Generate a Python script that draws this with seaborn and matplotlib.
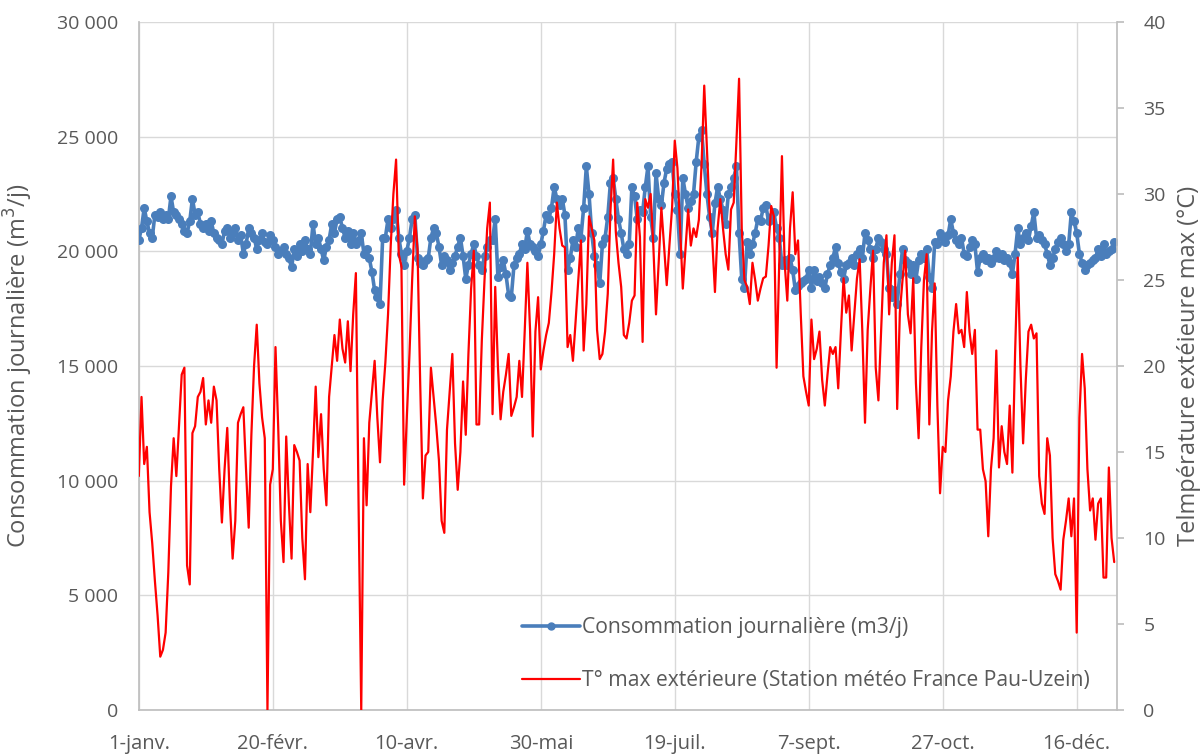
import matplotlib
matplotlib.use('Agg')
import numpy as np
import pandas as pd
import matplotlib.pyplot as plt
import matplotlib.lines as mlines
from matplotlib.ticker import FuncFormatter
import seaborn as sns

# Consommation journalière (m3/j), un point par jour (1-janv. -> 31-déc.)
conso = [
    20500, 21000, 21900, 21300, 20800, 20600, 21600, 21500, 21700, 21400,
    21600, 21400, 22400, 21700, 21600, 21400, 21200, 20900, 20800, 21300,
    22300, 21600, 21700, 21200, 21000, 21200, 20900, 21300, 20800, 20600,
    20500, 20300, 20900, 21000, 20600, 20800, 21000, 20500, 20700, 19900,
    20300, 21000, 20800, 20600, 20100, 20500, 20800, 20400, 20300, 20700,
    20500, 20200, 19900, 20000, 20200, 19900, 19700, 19300, 20100, 19800,
    20300, 20000, 20500, 20100, 19900, 21200, 20300, 20600, 20100, 19600,
    20200, 20500, 21200, 20800, 21400, 21500, 21000, 20600, 20900, 20300,
    20800, 20300, 20500, 20800, 19900, 20100, 19700, 19100, 18300, 18000,
    17700, 20600, 20600, 21400, 21000, 21400, 21800, 20600, 19900, 19400,
    20000, 20600, 21400, 21600, 19700, 19500, 19400, 19600, 19700, 20600,
    21000, 20800, 20200, 19400, 19800, 19600, 19200, 19500, 19800, 20200,
    20600, 19800, 18800, 19400, 19900, 20300, 19800, 19400, 19200, 19800,
    20200, 20500, 20500, 21400, 18900, 19300, 19600, 19000, 18100, 18000,
    19400, 19700, 19900, 20300, 20100, 20900, 20300, 20200, 20000, 19800,
    20300, 20900, 21600, 21400, 21900, 22800, 22300, 22000, 22300, 21600,
    19200, 19700, 20500, 20200, 21000, 20600, 21900, 23700, 22500, 20800,
    19800, 19400, 18600, 20300, 20600, 21500, 23000, 23200, 22300, 21400,
    20800, 20100, 19900, 20300, 22800, 22400, 21400, 21800, 21700, 22800,
    23700, 21500, 20600, 23400, 22300, 22000, 23000, 23600, 23800, 23900,
    22500, 21800, 19900, 23200, 22500, 21900, 22200, 22500, 23900, 25000,
    25300, 23800, 22500, 21500, 20800, 22100, 22800, 22300, 21800, 21200,
    22500, 22800, 23200, 23700, 20800, 18800, 18400, 20400, 19900, 20300,
    20800, 21400, 21300, 21900, 22000, 21300, 21500, 21700, 21000, 20600,
    19400, 19600, 19400, 19700, 19200, 18300, 18500, 18600, 18700, 18800,
    19200, 18400, 19200, 18700, 18900, 18600, 18400, 19000, 19400, 19700,
    20200, 19500, 19100, 18800, 19400, 19500, 19700, 19400, 19900, 20100,
    19700, 20800, 20500, 20100, 19700, 20100, 20600, 20400, 20100, 19900,
    18400, 18000, 18300, 17700, 19000, 20100, 19600, 19500, 19000, 19400,
    18800, 19600, 19900, 19700, 20100, 18900, 18400, 20400, 20300, 20800,
    20600, 20400, 20700, 21400, 20800, 20500, 20300, 20600, 19900, 19800,
    20200, 20500, 20300, 19100, 19700, 19900, 19600, 19700, 19500, 19700,
    20000, 19700, 19900, 19600, 19700, 19500, 19000, 19900, 21000, 20300,
    20600, 20800, 20500, 21100, 21700, 20600, 20700, 20500, 20300, 19900,
    19400, 19700, 20100, 20400, 20600, 20300, 20000, 20300, 21700, 21300,
    20800, 19900, 19500, 19200, 19400, 19500, 19600, 19700, 20100, 19800,
    20300, 19900, 20000, 20100, 20400,
]

# T° max extérieure (°C), un point par jour
temp = [
    13.6, 18.2, 14.3, 15.3, 11.5, 9.7, 7.5, 5.5, 3.1, 3.5,
    4.5, 8, 13, 15.8, 13.6, 16.5, 19.5, 19.9, 8.4, 7.3,
    16.1, 16.5, 18.2, 18.5, 19.3, 16.6, 18, 16.7, 18.8, 18,
    14, 10.9, 14, 16.4, 12, 8.8, 11, 16.7, 17.2, 17.6,
    14, 10.6, 16, 20, 22.4, 19, 17, 15.8, 0, 13.1,
    14, 21.1, 16.5, 11, 8.6, 15.9, 12, 8.8, 15.4, 15,
    14.5, 10, 7.6, 14.3, 11.5, 15, 18.8, 14.7, 17.2, 14,
    11.9, 18.2, 20, 21.8, 20.3, 22.7, 21, 20.2, 22.6, 19.7,
    23, 25.4, 12, 0, 15.8, 11.9, 16.7, 18.5, 20.3, 17,
    14.4, 18, 20.2, 23, 27, 30, 32, 26.5, 25.8, 13.1,
    17, 20.7, 25, 28.7, 26.8, 19, 12.3, 14.8, 15, 19.9,
    18.2, 16.5, 14.5, 11, 10.3, 16.3, 18.5, 20.7, 15.5, 12.8,
    15, 19.1, 16, 20.7, 24.5, 26.7, 16.6, 16.6, 21.5, 25,
    28, 29.5, 17.2, 24.6, 20, 16.9, 18.5, 19.5, 20.7, 17.1,
    17.6, 18.2, 20.3, 18.2, 22, 26, 22.1, 15.9, 22, 24,
    19.8, 20.9, 21.8, 22.5, 24.3, 26.5, 29.5, 28, 27, 26.9,
    21.1, 21.8, 20.3, 22.6, 25, 27.3, 20.9, 23.6, 28.7, 28,
    27.3, 22.1, 20.4, 20.7, 22, 24.2, 29, 32, 27.8, 26,
    24.6, 21.8, 21.6, 22.5, 23.8, 24.1, 29.5, 27.5, 21.4, 29.7,
    29.2, 30, 27, 23, 26, 29.2, 27, 24.7, 27, 29.2,
    33.1, 31.5, 28, 24.5, 26.8, 29.1, 27, 28, 27.5, 28.5,
    31.7, 36.3, 32.6, 29, 27.3, 24.3, 28, 29.7, 28, 26.5,
    25.6, 29.1, 29.5, 33, 36.7, 28, 25, 24.6, 23.6, 26,
    25, 23.8, 24.5, 25.1, 25.2, 27, 29.3, 28.7, 19.9, 26,
    32.2, 26, 23.8, 28, 30.1, 26.5, 27.3, 23.1, 19.4, 18.5,
    17.7, 22.7, 20.4, 21, 22, 19.2, 17.7, 19.5, 21.1, 20.7,
    21.1, 18.7, 22, 25.1, 23.1, 24.1, 20.9, 23, 25.1, 26.2,
    22, 16.7, 22.1, 24.5, 26.7, 19.9, 18, 22, 26, 27.6,
    23, 26, 27.6, 17.5, 23.1, 25, 26.7, 23, 21.9, 25.1,
    19, 15.8, 21.1, 25, 26.5, 16.6, 22, 24.8, 17.7, 12.6,
    15.3, 15, 18, 19.4, 22, 23.6, 21.9, 22.1, 21.1, 24.3,
    22, 20.7, 22.1, 16.3, 16.3, 14, 13.3, 10.1, 14, 15.8,
    20.9, 14.1, 16.5, 15, 14.3, 17.7, 13.8, 20.7, 26.3, 20,
    15.5, 19.2, 22, 22.4, 21.6, 21.9, 13.6, 12, 11.4, 15.8,
    14.8, 10, 7.9, 7.5, 7, 9.9, 11, 12.3, 10.1, 12.3,
    4.5, 17, 20.7, 18.7, 14, 11.6, 12.3, 9.9, 12, 12.3,
    7.7, 7.7, 14.1, 10, 8.6,
]

tick_days = [0, 50, 100, 150, 200, 250, 300, 350]
tick_labels = ['1-janv.', '20-févr.', '10-avr.', '30-mai', '19-juil.', '7-sept.', '27-oct.', '16-déc.']

n = min(len(conso), len(temp))
df = pd.DataFrame({'jour': np.arange(n), 'conso': conso[:n], 'temp': temp[:n]})

sns.set_theme(style='white')
plt.rcParams['font.family'] = ['Open Sans', 'DejaVu Sans']

blue = '#4A7EBB'
grey_txt = '#595959'
grid_c = '#D9D9D9'

fig = plt.figure(figsize=(12.02, 7.55), dpi=100)
ax = fig.add_axes([0.1155, 0.0596, 0.8137, 0.9113])

sns.lineplot(data=df, x='jour', y='conso', ax=ax, color=blue, lw=2.6,
             marker='o', markersize=6.5, markeredgewidth=0, zorder=3)
ax.set_ylim(0, 30000)
ax.set_xlim(0, 365)
ax.set_yticks(range(0, 30001, 5000))
ax.yaxis.set_major_formatter(FuncFormatter(lambda v, p: f'{int(v):,}'.replace(',', ' ')))
ax.set_xticks(tick_days)
ax.set_xticklabels(tick_labels, family=['Liberation Sans Narrow', 'Open Sans', 'DejaVu Sans'], fontsize=14.5)
ax.grid(True, color=grid_c, lw=1)
ax.set_axisbelow(True)
ax.tick_params(axis='y', length=0, pad=15, labelsize=14, labelcolor=grey_txt)
ax.tick_params(axis='x', length=0, pad=17, labelcolor=grey_txt)
ax.set_xlabel('')
ax.set_ylabel('Consommation journalière (m$^3$/j)', fontsize=17, color=grey_txt)
ax.yaxis.set_label_coords(-0.106, 0.5)
for s in ['top', 'right']:
    ax.spines[s].set_visible(False)
for s in ['left', 'bottom']:
    ax.spines[s].set_color('#BFBFBF')

ax2 = ax.twinx()
sns.lineplot(data=df, x='jour', y='temp', ax=ax2, color='#FF0000', lw=1.6)
ax2.set_ylim(0, 40)
ax2.set_yticks(range(0, 41, 5))
ax2.tick_params(axis='y', length=5, color='#BFBFBF', pad=14, labelsize=14, labelcolor=grey_txt)
ax2.set_ylabel('Telmpérature extéieure max (°C)', fontsize=17, color=grey_txt)
ax2.yaxis.set_label_coords(1.061, 0.5)
for s in ['top', 'left', 'bottom']:
    ax2.spines[s].set_visible(False)
ax2.spines['right'].set_color('#BFBFBF')

h1 = mlines.Line2D([], [], color=blue, lw=2.6, marker='o', markersize=5)
h2 = mlines.Line2D([], [], color='#FF0000', lw=1.6)
leg = ax2.legend([h1, h2],
                 ['Consommation journalière (m3/j)',
                  'T° max extérieure (Station météo France Pau-Uzein)'],
                 loc='lower left', bbox_to_anchor=(0.372, 0.0), frameon=False,
                 fontsize=15.2, handlelength=2.75, handletextpad=0.12, labelspacing=1.5)
for t in leg.get_texts():
    t.set_color(grey_txt)

fig.savefig('out.png', dpi=100)
